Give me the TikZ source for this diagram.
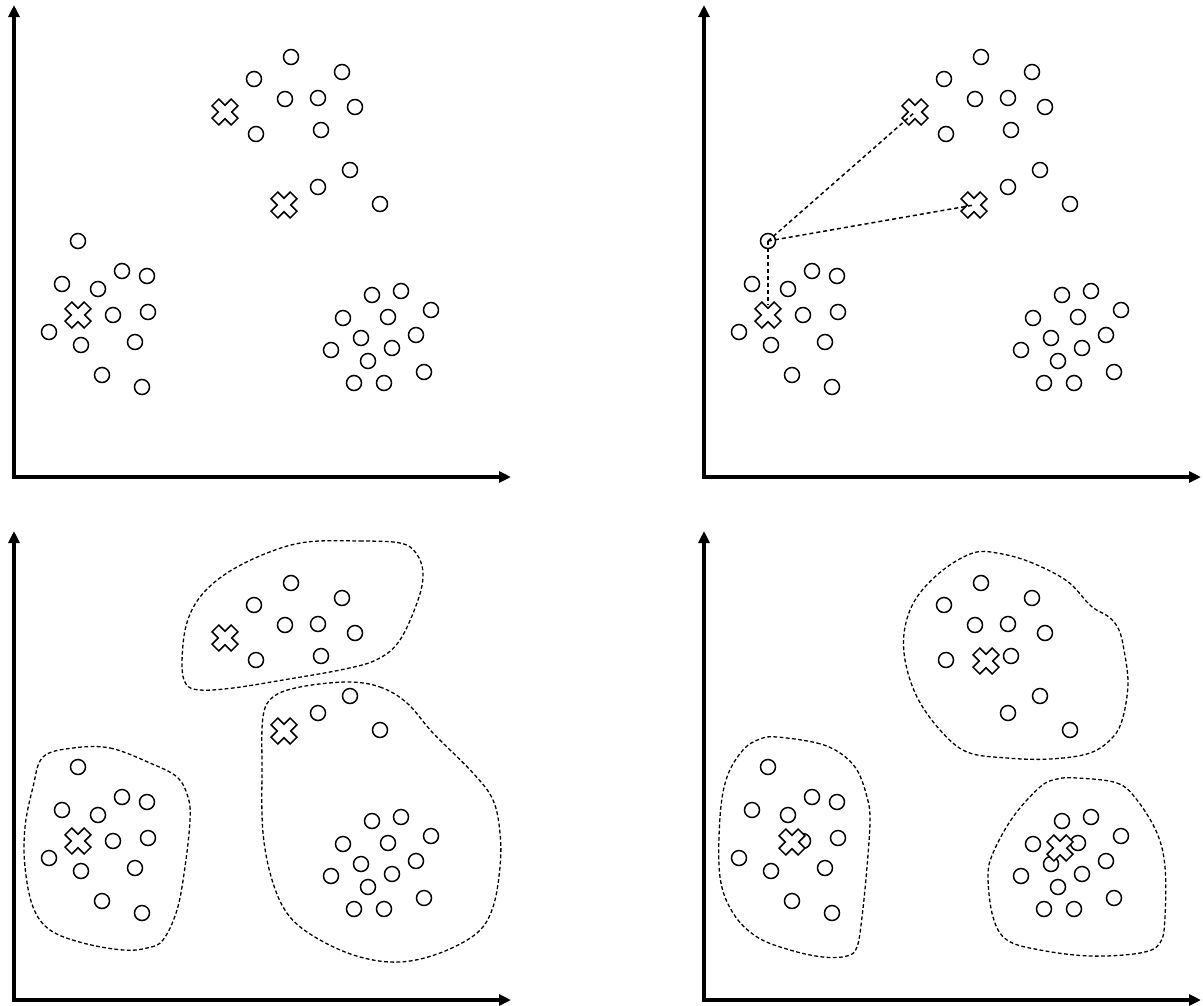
\documentclass[tikz,border=0pt]{standalone}
\usetikzlibrary{arrows.meta}
\newcommand\ptsA{291/57,254/79,342/72,285/99,318/98,355/107,256/134,321/130,350/170,318/187,380/204}
\newcommand\ptsB{62/284,98/289,122/271,147/276,113/315,148/312,49/332,81/345,135/342,102/375,142/387}
\newcommand\ptsC{372/295,401/291,431/310,343/318,388/317,361/338,416/335,331/350,392/348,368/361,424/372,354/383,384/383}
\newcommand\drawaxes[1]{%
  \coordinate (o) at (14,#1); \coordinate (ytip) at (14,5); \coordinate (xtip) at (511,#1);
  \draw[axis] (o) -- (ytip); \draw[axis] (o) -- (xtip);}
\newcommand\drawpts{%
  \foreach \x/\y [count=\i] in \ptsA {\node[pt] (a\i) at (\x,\y) {};}
  \foreach \x/\y [count=\i] in \ptsB {\node[pt] (b\i) at (\x,\y) {};}
  \foreach \x/\y [count=\i] in \ptsC {\node[pt] (c\i) at (\x,\y) {};}
  \node[pt] (s) at (78,241) {};}
\begin{document}
\begin{tikzpicture}[x=1pt,y=-1pt,
  pt/.style={circle,draw,line width=1.5pt,minimum size=15pt,inner sep=0pt},
  axis/.style={line width=3.4pt,line cap=rect,-{Triangle[length=12pt,width=11pt]}},
  blob/.style={dash pattern=on 3.8pt off 2.4pt,line width=1.3pt},
  link/.style={dash pattern=on 4pt off 3pt,line width=1.5pt},
  pics/centroid/.style={code={\filldraw[fill=white,line width=1.5pt,rotate=45]
    (4.8,4.8)--(4.8,13.5)--(-4.8,13.5)--(-4.8,4.8)--(-13.5,4.8)--(-13.5,-4.8)--(-4.8,-4.8)--(-4.8,-13.5)--(4.8,-13.5)--(4.8,-4.8)--(13.5,-4.8)--(13.5,4.8)--cycle;}}
]
\path[use as bounding box] (0,0) rectangle (1203,1005);

% Panel 1
\begin{scope}[name prefix=A-]
  \drawaxes{477}
  \drawpts
  \coordinate (k1) at (225,112); \coordinate (k2) at (284,205); \coordinate (k3) at (78,315);
  \foreach \k in {k1,k2,k3} \pic at (\k) {centroid};
\end{scope}

% Panel 2
\begin{scope}[shift={(690,0)},name prefix=B-]
  \drawaxes{477}
  \drawpts
  \coordinate (k1) at (225,112); \coordinate (k2) at (284,205); \coordinate (k3) at (78,315);
  \foreach \k in {k1,k2,k3} \pic at (\k) {centroid};
  \coordinate (e3) at (78,305);
  \draw[link] (s.center) -- (k1);
  \draw[link] (s.center) -- (k2);
  \draw[link] (s.center) -- (e3);
\end{scope}

% Panel 3
\begin{scope}[shift={(0,526)},name prefix=C-]
  \drawaxes{474}
  \drawpts
  \coordinate (k1) at (225,112); \coordinate (k2) at (284,205); \coordinate (k3) at (78,315);
  \foreach \k in {k1,k2,k3} \pic at (\k) {centroid};
  \draw[blob] plot[smooth cycle,tension=0.6] coordinates {
    (307,16) (360,15) (400,17) (416,27) (423,47) (418,74) (400,114) (378,133) (345,143)
    (283,154) (233,162) (200,164) (186,158) (182,138) (186,100) (200,71) (227,47) (267,27)};
  \draw[blob] plot[smooth cycle,tension=0.6] coordinates {
    (73,222) (110,222) (150,237) (177,251) (188,271) (190,294) (185,341) (177,384)
    (163,414) (147,422) (123,424) (83,417) (50,404) (33,381) (25,341) (25,301) (33,261) (43,231)};
  \draw[blob] plot[smooth cycle,tension=0.6] coordinates {
    (347,156) (380,161) (407,177) (433,207) (473,247) (493,274) (500,307) (500,341)
    (493,381) (477,407) (440,427) (400,436) (360,431) (320,414) (290,391) (273,357)
    (263,307) (262,241) (263,191) (273,171) (300,161)};
\end{scope}

% Panel 4
\begin{scope}[shift={(690,526)},name prefix=D-]
  \drawaxes{474}
  \drawpts
  \coordinate (k1) at (296,135); \coordinate (k2) at (370,322); \coordinate (k3) at (102,316);
  \foreach \k in {k1,k2,k3} \pic at (\k) {centroid};
  \draw[blob] plot[smooth cycle,tension=0.6] coordinates {
    (307,27) (340,36) (377,55) (401,80) (419,91) (429,104) (434,124) (438,157) (433,191)
    (423,211) (400,227) (360,233) (317,232) (277,226) (250,204) (227,171) (215,134)
    (215,101) (227,71) (253,44) (283,27)};
  \draw[blob] plot[smooth cycle,tension=0.6] coordinates {
    (87,211) (127,217) (150,227) (167,244) (177,271) (180,294) (177,341) (172,391)
    (167,421) (157,430) (133,431) (100,424) (67,411) (43,387) (30,351) (30,291) (37,251) (53,224) (70,213)};
  \draw[blob] plot[smooth cycle,tension=0.6] coordinates {
    (387,252) (427,257) (447,274) (467,307) (475,341) (475,391) (470,417) (450,427)
    (400,430) (350,424) (317,414) (303,391) (298,351) (303,327) (323,291) (350,261) (367,253)};
\end{scope}
\end{tikzpicture}
\end{document}
